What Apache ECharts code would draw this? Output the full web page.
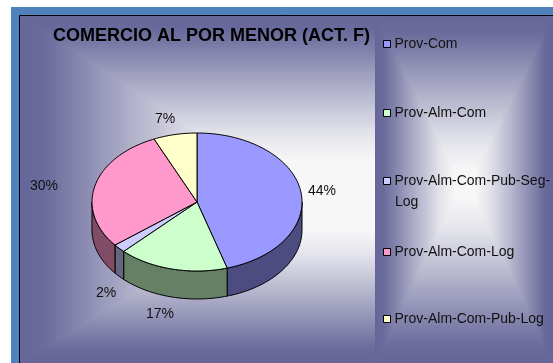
<!DOCTYPE html>
<html><head><meta charset="utf-8">
<style>html,body{margin:0;padding:0;background:#fff}#c{width:553px;height:363px}</style>
<script src="https://cdn.jsdelivr.net/npm/echarts@6/dist/echarts.min.js"></script>
</head><body><div id="c"></div>
<script>
const categories = ['Prov-Com','Prov-Alm-Com','Prov-Alm-Com-Pub-Seg-Log','Prov-Alm-Com-Log','Prov-Alm-Com-Pub-Log'];
const shares = [44,17,2,30,7];
const topColors = ['#9999ff','#ccffcc','#ccccff','#ff99cc','#ffffcc'];
const sideColors = ['#4c4c80','#668066','#666680','#804c66','#808066'];
const titleText = 'COMERCIO AL POR MENOR (ACT. F)';

const FONT = '"Liberation Sans", Arial, sans-serif';
const CX=197, CY=202, RX=105, RY=69, DEPTH=28;
const labelOffsets = [[21,-1],[-12,17],[-13,17],[-51,0],[-10,-15]];
const legendTops = [37,106,174,245,312];
const total = shares.reduce((a,b)=>a+b,0);
// Perspective of the tilted disc: slices nearer the viewer look slightly wider.
const warp = a => a + 5*Math.sin(a*Math.PI/360);
const pt = (deg,dy=0)=>{const r=deg*Math.PI/180;return [CX+RX*Math.sin(r),CY-RY*Math.cos(r)+dy];};

function renderSlice(index){
  return function(params,api){
    const before = shares.slice(0,index).reduce((a,b)=>a+b,0);
    const a0 = warp(before/total*360), a1 = warp((before+api.value(0))/total*360);
    const arc=[]; for(let d=a0;d<a1;d+=1.5) arc.push(pt(d)); arc.push(pt(a1));
    const children=[];
    const s0=Math.max(a0,90), s1=Math.min(a1,270);
    if(s1>s0){
      const f=[],b=[];
      for(let d=s0;d<s1;d+=1.5){f.push(pt(d));b.push(pt(d,DEPTH));}
      f.push(pt(s1));b.push(pt(s1,DEPTH));
      children.push({type:'polygon',shape:{points:f.concat(b.reverse())},
        style:{fill:sideColors[index],stroke:'#000',lineWidth:1}});
    }
    children.push({type:'polygon',shape:{points:[[CX,CY]].concat(arc)},
      style:{fill:topColors[index],stroke:'#000',lineWidth:1}});
    const mid=(a0+a1)/2, e=pt(mid, (mid>90&&mid<270)?DEPTH:0);
    children.push({type:'text',z2:10,style:{x:e[0]+labelOffsets[index][0],y:e[1]+labelOffsets[index][1],
      text:api.value(0)+'%',font:'14px '+FONT,fill:'#111',align:'center',verticalAlign:'middle'}});
    return {type:'group',children};
  };
}

// Rectangular "path" gradient: nested rectangles from the panel edge to the focus rectangle.
const gradColors=[[0,[102,102,153]],[.1,[106,106,156]],[.5,[176,176,202]],[.8,[226,226,234]],[1,[247,247,248]]];
function shade(t){
  for(let i=1;i<gradColors.length;i++){
    if(t<=gradColors[i][0]){
      const [t0,c0]=gradColors[i-1],[t1,c1]=gradColors[i],k=(t-t0)/(t1-t0);
      return 'rgb('+c0.map((v,j)=>Math.round(v+(c1[j]-v)*k)).join(',')+')';
    }
  }
  return 'rgb(247,247,248)';
}
function panel(x0,y0,x1,y1,fx0,fy0,fx1,fy1,z){
  const out=[],N=90;
  for(let i=0;i<=N;i++){
    const t=i/N,l=x0+(fx0-x0)*t,u=y0+(fy0-y0)*t,r=x1+(fx1-x1)*t,b=y1+(fy1-y1)*t;
    out.push({type:'rect',shape:{x:l,y:u,width:r-l,height:b-u},style:{fill:shade(t)},z,silent:true});
  }
  return out;
}

const chart=echarts.init(document.getElementById('c'),null,{renderer:'canvas'});
chart.setOption({
  animation:false,
  graphic:{elements:[
    {type:'rect',shape:{x:11,y:7,width:542,height:356},style:{fill:'#4f81bd'},z:-10},
    ...panel(20,16,500,363,240,160,500,230,-9),
    ...panel(375,16,553,363,455,170,475,200,-8),
    {type:'line',shape:{x1:19.5,y1:15.5,x2:553,y2:15.5},style:{stroke:'#000',lineWidth:1},z:-7},
    {type:'line',shape:{x1:19.5,y1:15.5,x2:19.5,y2:363},style:{stroke:'#000',lineWidth:1},z:-7},
    {type:'text',z:5,style:{x:395,y:202,text:categories[2].split('-').pop(),font:'14px '+FONT,fill:'#111',verticalAlign:'middle'}}
  ]},
  title:{text:titleText,left:53,top:27,padding:0,textStyle:{fontFamily:FONT,fontSize:18,fontWeight:'bold',color:'#000'}},
  legend:categories.map((c,i)=>({
    data:[c],left:383,top:legendTops[i],padding:0,orient:'vertical',icon:'rect',itemWidth:7,itemHeight:7,itemGap:0,
    selectedMode:false,
    itemStyle:{borderColor:'#000',borderWidth:1},
    formatter:n=>i===2?n.slice(0,n.lastIndexOf('-')+1):n,
    textStyle:{fontFamily:FONT,fontSize:14,color:'#111',padding:[0,0,0,-1]}
  })),
  series:categories.map((c,i)=>({
    type:'custom',name:c,coordinateSystem:'none',silent:true,
    itemStyle:{color:topColors[i]},
    data:[[shares[i]]],encode:{value:0},renderItem:renderSlice(i)
  }))
});
</script></body></html>
